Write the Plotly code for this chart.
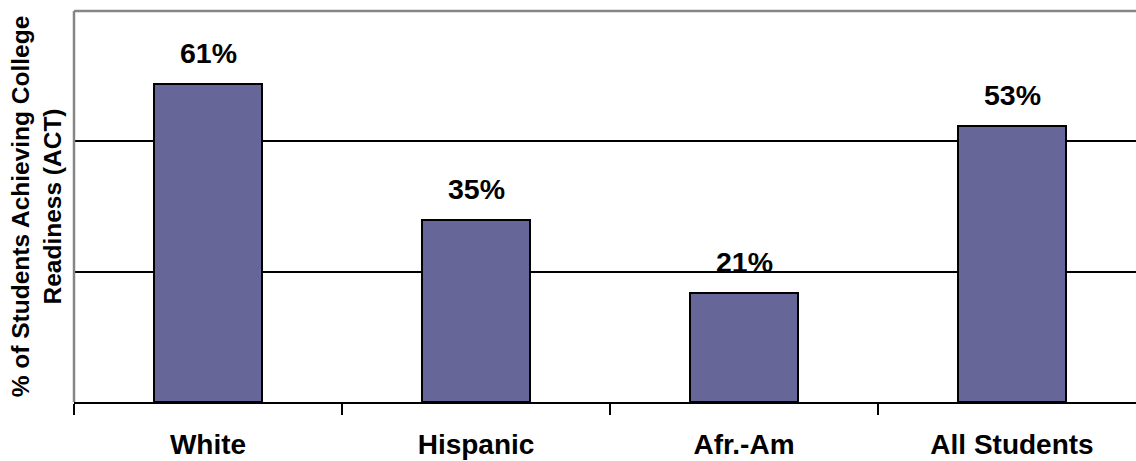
import plotly.graph_objects as go

# Share of students reaching the ACT college-readiness benchmark, by group
groups = ["White", "Hispanic", "Afr.-Am", "All Students"]
pct_ready = [61, 35, 21, 53]
value_labels = ["61%", "35%", "21%", "53%"]

bar_fill = "#666699"
font_family = "Liberation Sans, Arial, sans-serif"

fig = go.Figure()

fig.add_trace(go.Bar(
    x=groups,
    y=pct_ready,
    width=0.403,
    marker=dict(color=bar_fill, line=dict(color="black", width=2)),
    hoverinfo="skip",
))

# Value labels sitting above each bar
for g, v, lab in zip(groups, pct_ready, value_labels):
    fig.add_annotation(
        x=g, y=v, text=f"<b>{lab}</b>", showarrow=False,
        xanchor="center", yanchor="middle", yshift=31,
        font=dict(family=font_family, size=28.5, color="black"),
    )

# Grey frame along the top and left of the plotting area
fig.add_shape(type="line", xref="paper", yref="paper", x0=0, x1=1, y0=1, y1=1,
              line=dict(color="#868686", width=2.5), layer="above")
fig.add_shape(type="line", xref="paper", yref="paper", x0=0, x1=0, y0=0, y1=1,
              line=dict(color="#868686", width=2.5), layer="above")

fig.update_layout(
    width=1136, height=461,
    margin=dict(l=74, r=0, t=11, b=59),
    paper_bgcolor="white", plot_bgcolor="white",
    showlegend=False,
    font=dict(family=font_family, color="black"),
    bargap=0,
)

fig.update_xaxes(
    type="category",
    range=[-0.5, 3.4627],
    showline=True, linecolor="black", linewidth=2,
    ticks="outside", ticklen=11, tickwidth=2, tickcolor="black",
    tickson="boundaries",
    tickfont=dict(family=font_family, size=28, color="black"),
    tickprefix="<b>", ticksuffix="</b>",
    ticklabelstandoff=16,
    showgrid=False, zeroline=False,
)

fig.update_yaxes(
    range=[0, 75],
    tickvals=[25, 50],
    showticklabels=False,
    showgrid=True, gridcolor="black", gridwidth=2,
    zeroline=False, showline=False, ticks="",
    title=dict(
        text="<b>% of Students Achieving College<br>Readiness (ACT)</b>",
        font=dict(family=font_family, size=24.5, color="black"),
        standoff=4,
    ),
)

fig.write_html("out.html")
